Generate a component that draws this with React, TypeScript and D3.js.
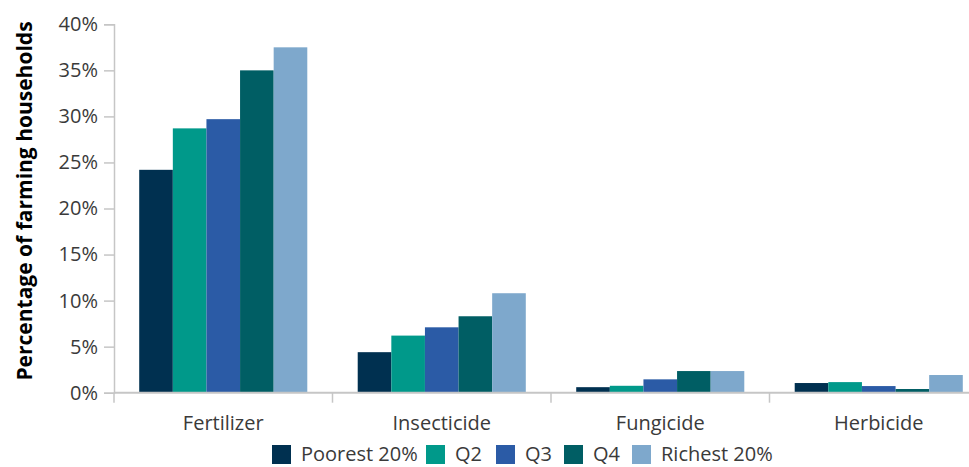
import React, { useEffect, useRef } from 'react';
import * as d3 from 'd3';

const categories = ['Fertilizer', 'Insecticide', 'Fungicide', 'Herbicide'];
const groups = ['Poorest 20%', 'Q2', 'Q3', 'Q4', 'Richest 20%'];
const colors = ['#003050', '#00998a', '#2b5ba6', '#005e64', '#7ea8cc'];

// values per group, in category order (percent)
const poorest = [24.2, 4.4, 0.6, 1.05];
const q2 = [28.7, 6.2, 0.75, 1.15];
const q3 = [29.7, 7.1, 1.45, 0.72];
const q4 = [35.0, 8.3, 2.35, 0.4];
const richest = [37.5, 10.8, 2.35, 1.92];
const seriesValues = [poorest, q2, q3, q4, richest];

const yTicks = [0, 5, 10, 15, 20, 25, 30, 35, 40];

const W = 969;
const H = 467;
const FONT = '"Open Sans", "Segoe UI", sans-serif';

const App: React.FC = () => {
  const svgRef = useRef<SVGSVGElement>(null);

  useEffect(() => {
    if (!svgRef.current) return;
    const svg = d3.select(svgRef.current);
    svg.selectAll('*').remove();

    const left = 114;
    const top = 24.3;
    const bottom = 392.7;
    const right = 988; // plot runs past the visible edge

    const x = d3.scaleBand<string>().domain(categories).range([left, right]).paddingInner(0).paddingOuter(0);
    const x1 = d3.scaleBand<string>().domain(groups).range([0, x.bandwidth()]).paddingInner(0).paddingOuter(0.75);
    const y = d3.scaleLinear().domain([0, 40]).range([bottom, top]);

    // bars
    groups.forEach((gName, gi) => {
      svg.append('g')
        .selectAll('rect')
        .data(seriesValues[gi])
        .enter()
        .append('rect')
        .attr('x', (_d, i) => (x(categories[i]) || 0) + (x1(gName) || 0))
        .attr('y', d => y(d))
        .attr('width', x1.bandwidth())
        .attr('height', d => y(0) - y(d))
        .attr('fill', colors[gi]);
    });

    const axisColor = '#c6c6c6';
    const textColor = '#3a3a3a';

    // y axis
    const yAxis = svg.append('g')
      .attr('transform', `translate(${left},0)`)
      .call(d3.axisLeft(y).tickValues(yTicks).tickSize(10).tickPadding(6).tickFormat(d => `${d}%`));
    yAxis.select('.domain').attr('stroke', axisColor).attr('stroke-width', 1.5);
    yAxis.selectAll('.tick line').attr('stroke', axisColor).attr('stroke-width', 1.5);
    yAxis.selectAll('.tick text')
      .attr('fill', textColor)
      .style('font-family', FONT)
      .style('font-size', '20px');

    // x axis
    const xAxis = svg.append('g').attr('transform', `translate(0,${bottom})`);
    xAxis.append('line')
      .attr('x1', left).attr('x2', right)
      .attr('y1', 0).attr('y2', 0)
      .attr('stroke', axisColor).attr('stroke-width', 2);
    const bounds = categories.map(c => x(c) || 0).concat([right]);
    xAxis.selectAll('.xt')
      .data(bounds)
      .enter()
      .append('line')
      .attr('x1', d => d).attr('x2', d => d)
      .attr('y1', 0).attr('y2', 10)
      .attr('stroke', axisColor).attr('stroke-width', 1.5);
    xAxis.selectAll('.xl')
      .data(categories)
      .enter()
      .append('text')
      .attr('x', d => (x(d) || 0) + x.bandwidth() / 2)
      .attr('y', 37)
      .attr('text-anchor', 'middle')
      .attr('fill', textColor)
      .style('font-family', FONT)
      .style('font-size', '20px')
      .text(d => d);

    // y title
    svg.append('text')
      .attr('transform', `translate(32,${(22 + 380) / 2}) rotate(-90)`)
      .attr('text-anchor', 'middle')
      .attr('fill', '#000')
      .style('font-family', FONT)
      .style('font-size', '21px')
      .style('font-weight', 'bold')
      .text('Percentage of farming households');

    // legend
    const legendX = [272, 426, 496, 564, 632];
    const lg = svg.append('g');
    groups.forEach((gName, gi) => {
      lg.append('rect')
        .attr('x', legendX[gi]).attr('y', 445)
        .attr('width', 19).attr('height', 19)
        .attr('fill', colors[gi]);
      lg.append('text')
        .attr('x', legendX[gi] + 29).attr('y', 461)
        .attr('fill', textColor)
        .style('font-family', FONT)
        .style('font-size', '20px')
        .text(gName);
    });
  }, []);

  return (
    <div style={{ position: 'absolute', left: 0, top: 0, width: W, height: H, overflow: 'hidden', background: '#fff' }}>
      <svg ref={svgRef} width={W} height={H} style={{ display: 'block' }} />
    </div>
  );
};

export default App;
